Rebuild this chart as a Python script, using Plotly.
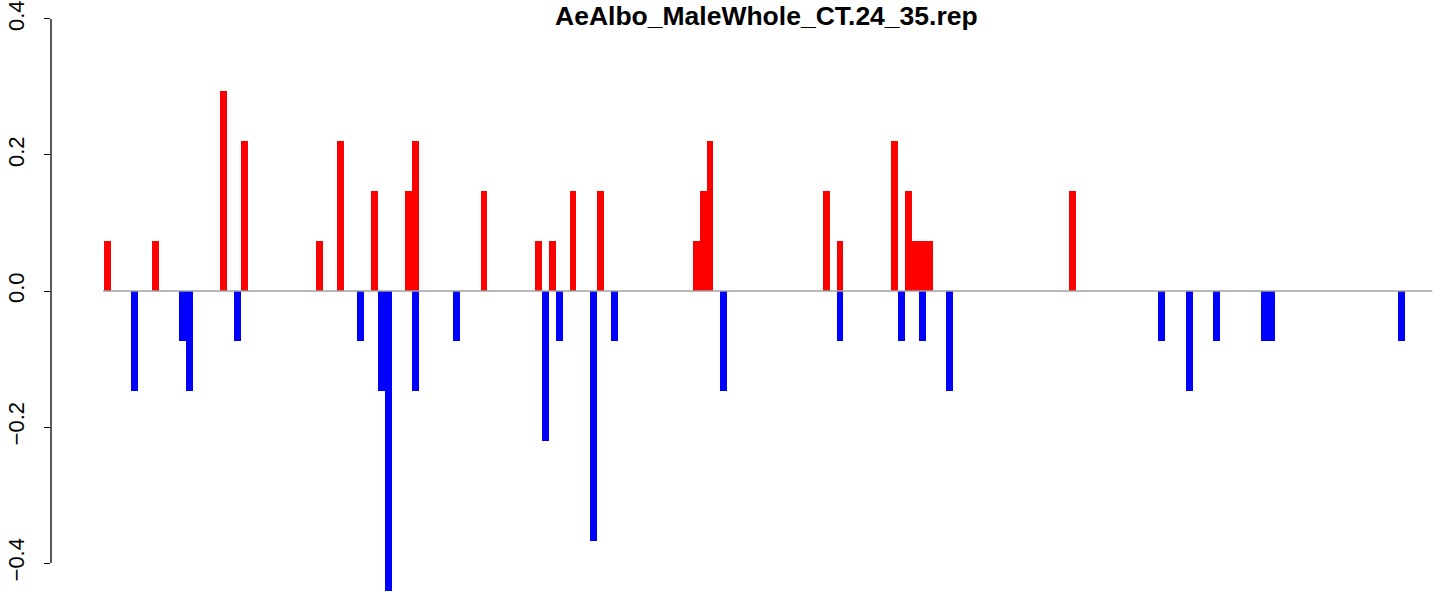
import plotly.graph_objects as go

# ---- data (slot index along the genome, value) ----
title_text = "AeAlbo_MaleWhole_CT.24_35.rep"
n_slots = 194

red_pos = [0, 7, 17, 20, 31, 34, 39, 44, 45, 55, 63, 65, 68, 72, 86, 87, 88,
           105, 107, 115, 117, 118, 119, 120, 141]
red_val = [0.0735, 0.0735, 0.294, 0.2205, 0.0735, 0.2205, 0.147, 0.147, 0.2205,
           0.147, 0.0735, 0.0735, 0.147, 0.147, 0.0735, 0.147, 0.2205,
           0.147, 0.0735, 0.2205, 0.147, 0.0735, 0.0735, 0.0735, 0.147]

blue_pos = [4, 11, 12, 19, 37, 40, 41, 45, 51, 64, 66, 71, 74, 90, 107, 116,
            119, 123, 154, 158, 162, 169, 170, 189]
blue_val = [-0.147, -0.0735, -0.147, -0.0735, -0.0735, -0.147, -0.441, -0.147,
            -0.0735, -0.2205, -0.0735, -0.3676, -0.0735, -0.147, -0.0735, -0.0735,
            -0.0735, -0.147, -0.0735, -0.147, -0.0735, -0.0735, -0.0735, -0.0735]

y_ticks = [-0.4, -0.2, 0.0, 0.2, 0.4]
y_ticklabels = ["\u22120.4", "\u22120.2", "0.0", "0.2", "0.4"]

FONT = "Liberation Sans, Arial, Helvetica, sans-serif"

fig = go.Figure()
fig.add_trace(go.Bar(x=[p + 0.5 for p in red_pos], y=red_val, width=1,
                     marker=dict(color="#FF0000", line=dict(width=0)),
                     showlegend=False, hoverinfo="x+y"))
fig.add_trace(go.Bar(x=[p + 0.5 for p in blue_pos], y=blue_val, width=1,
                     marker=dict(color="#0000FF", line=dict(width=0)),
                     showlegend=False, hoverinfo="x+y"))
# zero reference line across the slots
fig.add_trace(go.Scatter(x=[-0.15, n_slots], y=[0, 0], mode="lines",
                         line=dict(color="#A0A0A0", width=1.5),
                         showlegend=False, hoverinfo="skip"))

# y axis line from first to last tick (R style)
fig.add_shape(type="line", xref="paper", yref="y", x0=0, x1=0,
              y0=y_ticks[0], y1=y_ticks[-1], line=dict(color="black", width=1.3))

fig.add_annotation(text="<b>" + title_text + "</b>", xref="paper", yref="paper",
                   x=0.511, y=1.0, xanchor="center", yanchor="top",
                   yshift=1, showarrow=False,
                   font=dict(family=FONT, size=26.5, color="black"))

fig.update_layout(
    width=1452, height=592,
    margin=dict(l=51, r=0, t=0, b=0, autoexpand=False),
    paper_bgcolor="white", plot_bgcolor="white",
    barmode="overlay",
    bargap=0,
    xaxis=dict(range=[-7.741, 196.87], visible=False, fixedrange=True,
               automargin=False),
    yaxis=dict(range=[-0.4426, 0.4279], tickvals=y_ticks, ticktext=y_ticklabels,
               tickangle=-90, ticks="outside", ticklen=6, tickwidth=1.3,
               tickcolor="black", showgrid=False, zeroline=False, showline=False,
               ticklabelstandoff=11, automargin=False, ticklabeloverflow="allow",
               tickfont=dict(family=FONT, size=22, color="black")),
    font=dict(family=FONT),
)

# page body without the browser's default 8px margin, so the figure fills the window
fig.write_html("out.html", config={"displayModeBar": False},
               post_script="document.body.style.margin='0';document.body.style.overflow='hidden';")
